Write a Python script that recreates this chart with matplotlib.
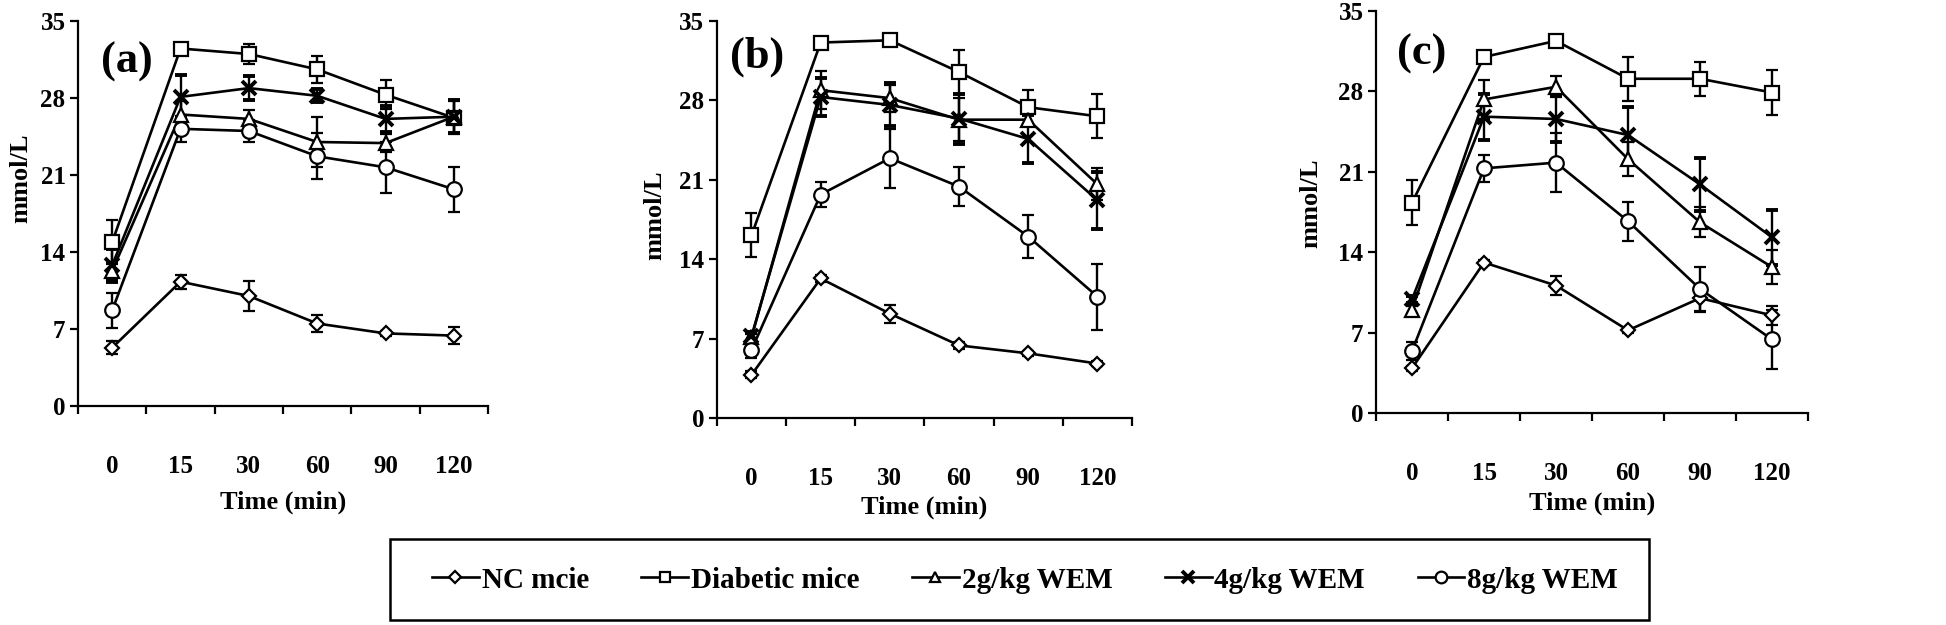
import numpy as np
import matplotlib
matplotlib.use("Agg")
import matplotlib.pyplot as plt
from matplotlib.lines import Line2D
from matplotlib.patches import Rectangle

plt.rcParams['font.family'] = ['Liberation Serif', 'DejaVu Serif']
plt.rcParams['font.weight'] = 'bold'

times = ['0', '15', '30', '60', '90', '120']
series = ['NC mcie', 'Diabetic mice', '2g/kg WEM', '4g/kg WEM', '8g/kg WEM']
markers = ['D', 's', '^', 'x', 'o']
msizes = [7.5, 9.5, 9.5, 10, 10.5]

# blood glucose (mmol/L), rows follow `series`
a_mean = [[5.3, 11.3, 10.0, 7.5, 6.6, 6.4],
          [14.9, 32.5, 32.0, 30.6, 28.3, 26.2],
          [12.3, 26.5, 26.1, 24.0, 23.9, 26.3],
          [12.8, 28.1, 28.9, 28.2, 26.1, 26.3],
          [8.7, 25.2, 25.0, 22.7, 21.7, 19.7]]
a_err = [[0.6, 0.65, 1.4, 0.75, 0.2, 0.75],
         [2.0, 0.2, 0.9, 1.2, 1.3, 1.5],
         [0.8, 1.2, 0.8, 2.3, 0.8, 1.5],
         [1.5, 2.0, 1.1, 0.6, 1.2, 1.5],
         [1.6, 1.2, 1.0, 2.1, 2.3, 2.05]]

b_mean = [[3.8, 12.3, 9.2, 6.4, 5.7, 4.8],
          [16.1, 33.1, 33.3, 30.5, 27.4, 26.6],
          [7.1, 28.9, 28.2, 26.3, 26.3, 20.6],
          [7.2, 28.3, 27.6, 26.4, 24.6, 19.2],
          [6.0, 19.7, 22.9, 20.4, 16.0, 10.7]]
b_err = [[0.3, 0.3, 0.8, 0.3, 0.2, 0.2],
         [1.95, 0.2, 0.2, 1.9, 1.5, 1.95],
         [0.3, 1.7, 1.2, 1.9, 0.6, 1.4],
         [0.4, 1.7, 1.9, 2.2, 2.1, 2.5],
         [0.7, 1.1, 2.6, 1.75, 1.9, 2.9]]

c_mean = [[3.9, 13.1, 11.1, 7.2, 10.0, 8.5],
          [18.3, 31.0, 32.4, 29.1, 29.1, 27.9],
          [9.0, 27.3, 28.4, 22.1, 16.6, 12.7],
          [9.9, 25.8, 25.6, 24.2, 19.9, 15.3],
          [5.4, 21.3, 21.8, 16.7, 10.8, 6.4]]
c_err = [[0.2, 0.2, 0.8, 0.2, 1.2, 0.8],
         [1.95, 0.2, 0.2, 1.9, 1.5, 1.95],
         [0.3, 1.7, 0.9, 1.5, 1.3, 1.5],
         [0.3, 2.0, 2.0, 2.4, 2.3, 2.4],
         [0.8, 1.15, 2.6, 1.7, 1.9, 2.55]]

panels = [
    ('(a)', a_mean, a_err, [0.0401, 0.3504, 0.2107, 0.616], (0.118, 0.895), (-0.14, 0.592), -0.25),
    ('(b)', b_mean, b_err, [0.3684, 0.3312, 0.2133, 0.6352], (0.097, 0.91), (-0.15, 0.511), -0.225),
    ('(c)', c_mean, c_err, [0.7071, 0.3392, 0.2220, 0.6432], (0.105, 0.893), (-0.152, 0.522), -0.225),
]

fig = plt.figure(figsize=(19.46, 6.25), dpi=100)
x = np.arange(len(times))

for tag, means, errs, pos, tagxy, ylab, xlab_y in panels:
    ax = fig.add_axes(pos)
    for i in range(len(series)):
        mew = 2.8 if markers[i] == 'x' else 1.6
        ax.errorbar(x, means[i], yerr=errs[i], color='black', lw=1.9,
                    elinewidth=1.7, capsize=4.5, capthick=1.7,
                    marker=markers[i], ms=msizes[i], mfc='white', mec='black',
                    mew=mew, zorder=3)
    ax.set_xlim(-0.5, 5.5)
    ax.set_ylim(0, 35)
    ax.set_yticks(np.arange(0, 36, 7))
    ax.set_xticks(x)
    ax.set_xticklabels(times)
    ax.set_xticks(np.arange(-0.5, 6, 1), minor=True)
    ax.tick_params(axis='x', which='major', length=0, pad=35, labelsize=18)
    ax.tick_params(axis='x', which='minor', length=6, width=1.6, direction='out')
    ax.tick_params(axis='y', length=6, width=1.6, direction='out', labelsize=18, pad=3)
    for s in ['top', 'right']:
        ax.spines[s].set_visible(False)
    for s in ['left', 'bottom']:
        ax.spines[s].set_linewidth(1.6)
    ax.text(tagxy[0], tagxy[1], tag, transform=ax.transAxes, fontsize=32,
            fontweight='bold', ha='center', va='center')
    ax.text(ylab[0], ylab[1], 'mmol/L', transform=ax.transAxes, fontsize=19,
            fontweight='bold', rotation=90, ha='center', va='center')
    ax.text(0.5, xlab_y, 'Time (min)', transform=ax.transAxes, fontsize=19,
            fontweight='bold', ha='center', va='center')

handles = []
for i in range(len(series)):
    mew = 2.8 if markers[i] == 'x' else 1.6
    handles.append(Line2D([], [], color='black', lw=1.9, marker=markers[i],
                          ms=msizes[i] * 0.8, mfc='white', mec='black', mew=mew))

# legend frame drawn by hand so its width can differ from the entries
fig.patches.append(Rectangle((390 / 1946, 1 - 620 / 625), 1259 / 1946, 81 / 625,
                             transform=fig.transFigure, fill=False,
                             edgecolor='black', linewidth=1.8))
fig.legend(handles, series, loc='center', ncol=5,
           bbox_to_anchor=(1025 / 1946, 1 - 580 / 625), frameon=False,
           prop={'family': 'Liberation Serif', 'weight': 'bold', 'size': 21},
           handlelength=1.6, handletextpad=0.1, columnspacing=1.8)

fig.savefig('out.png', dpi=100)
